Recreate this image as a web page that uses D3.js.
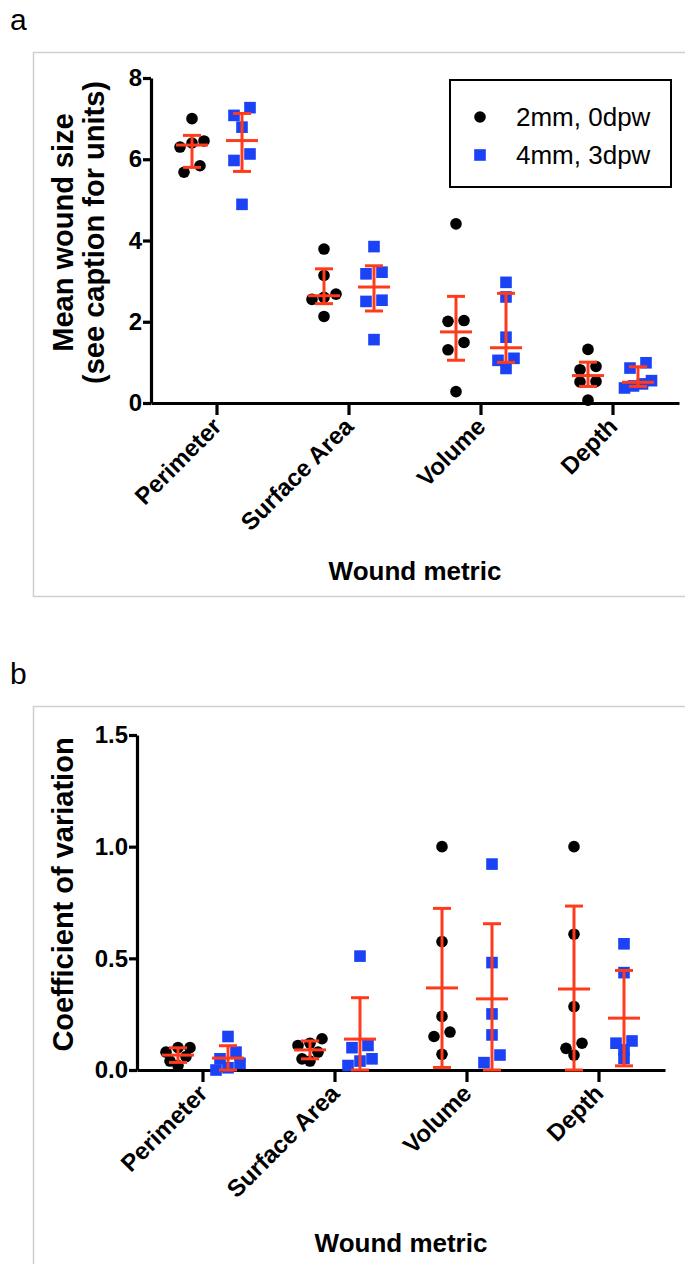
<!DOCTYPE html>
<html lang="en">
<head>
<meta charset="utf-8">
<title>wound metrics</title>
<script src="https://d3js.org/d3.v7.min.js"></script>
<style>
  body{margin:0;background:#fff;font-family:"Liberation Sans",Arial,Helvetica,sans-serif;}
  svg text{font-family:"Liberation Sans",Arial,Helvetica,sans-serif;}
</style>
</head>
<body>
<div id="chart"></div>
<script>
// ---- data ----
var categories = ["Perimeter", "Surface Area", "Volume", "Depth"];
var seriesNames = ["2mm, 0dpw", "4mm, 3dpw"];

// panel a: mean wound size per animal
var size2mm = [
  [7.0, 6.45, 6.4, 6.3, 5.84, 5.68],
  [3.79, 3.14, 2.68, 2.6, 2.55, 2.13],
  [4.41, 2.03, 2.01, 1.49, 1.31, 0.28],
  [1.32, 0.9, 0.82, 0.53, 0.52, 0.07]
];
var size4mm = [
  [7.27, 7.08, 6.79, 6.13, 5.97, 4.89],
  [3.85, 3.22, 3.18, 2.53, 2.5, 1.56],
  [2.97, 2.61, 1.62, 1.10, 1.05, 0.85],
  [0.99, 0.86, 0.55, 0.47, 0.42, 0.37]
];
var sizeTicks = [0, 2, 4, 6, 8];

// panel b: coefficient of variation per animal
var cv2mm = [
  [0.10, 0.10, 0.08, 0.06, 0.04, 0.02],
  [0.14, 0.12, 0.11, 0.08, 0.05, 0.04],
  [1.0, 0.575, 0.24, 0.17, 0.15, 0.07],
  [1.0, 0.608, 0.284, 0.12, 0.097, 0.067]
];
var cv4mm = [
  [0.15, 0.08, 0.05, 0.03, 0.01, 0.0],
  [0.51, 0.11, 0.10, 0.05, 0.04, 0.02],
  [0.922, 0.481, 0.251, 0.157, 0.067, 0.033],
  [0.565, 0.436, 0.13, 0.12, 0.09, 0.052]
];
var cvTicks = [0, 0.5, 1.0, 1.5];

var BLACK = "#000", BLUE = "#1b42f5", RED = "#ff3b1c";
var W = 685, H = 1264;

var svg = d3.select("#chart").append("svg")
  .attr("width", W).attr("height", H);

// quartile the way prism does it, position (n+1)p
function quart(vals, p) {
  var s = vals.slice().sort(d3.ascending), n = s.length;
  var pos = (n + 1) * p, lo = Math.floor(pos), f = pos - lo;
  if (lo < 1) return s[0];
  if (lo >= n) return s[n - 1];
  return s[lo - 1] + f * (s[lo] - s[lo - 1]);
}

function summary(vals, stat) {
  if (stat == "median") {
    return {mid: quart(vals, 0.5), lo: quart(vals, 0.25), hi: quart(vals, 0.75)};
  }
  var m = d3.mean(vals), sd = d3.deviation(vals);
  return {mid: m, lo: Math.max(0, m - sd), hi: m + sd};
}

// spread points with about the same y into a row, like a scatter dot plot
function spread(vals, y) {
  var idx = d3.range(vals.length).sort(function(a, b){ return vals[b] - vals[a]; });
  var out = new Array(vals.length);
  var i = 0;
  while (i < idx.length) {
    var y0 = y(vals[idx[i]]), row = [idx[i]];
    var j = i + 1;
    while (j < idx.length && Math.abs(y(vals[idx[j]]) - y0) < 8) { row.push(idx[j]); j++; }
    var step = row.length == 2 ? 16 : (row.length == 3 ? 12 : 9);
    row.forEach(function(k, r){ out[k] = ((row.length - 1) / 2 - r) * step; });
    i = j;
  }
  return out;
}

function drawPanel(cfg) {
  var g = svg.append("g");

  g.append("rect")
    .attr("x", 33.5).attr("y", cfg.frameTop + 0.5)
    .attr("width", 700).attr("height", cfg.frameH)
    .attr("fill", "none").attr("stroke", "#cfcfcf").attr("stroke-width", 1.5);

  g.append("text").attr("x", 10).attr("y", cfg.frameTop - 22)
    .attr("font-size", 30).text(cfg.letter);

  var y = d3.scaleLinear().domain(cfg.yDomain).range([cfg.y0, cfg.y1]);
  var x = d3.scaleBand().domain(categories).range([cfg.x0, cfg.x0 + 528]);

  var yAxis = d3.axisLeft(y).tickValues(cfg.ticks).tickFormat(d3.format(cfg.fmt))
    .tickSize(8).tickSizeOuter(0).tickPadding(1);
  var ya = g.append("g").attr("transform", "translate(" + cfg.x0 + ",0)").call(yAxis);

  var xAxis = d3.axisBottom(x).tickSize(12).tickSizeOuter(0);
  var xa = g.append("g").attr("transform", "translate(0," + cfg.y0 + ")").call(xAxis);

  [ya, xa].forEach(function(a){
    a.select(".domain").attr("stroke", "#000").attr("stroke-width", 3.2);
    a.selectAll(".tick line").attr("stroke", "#000").attr("stroke-width", 3.2);
    a.selectAll("text").attr("fill", "#000").attr("font-size", 24).attr("font-weight", "bold");
  });
  xa.selectAll(".tick text")
    .attr("x", 0).attr("y", 0).attr("dy", "0.35em")
    .attr("transform", "translate(0,19) rotate(-45)")
    .style("text-anchor", "end").attr("font-size", 24);

  g.append("text").attr("x", cfg.x0 + 264).attr("y", cfg.xTitleY)
    .attr("text-anchor", "middle").attr("font-size", 26).attr("font-weight", "bold")
    .text("Wound metric");

  cfg.yTitle.forEach(function(t, i){
    g.append("text")
      .attr("transform", "translate(" + cfg.yTitleX[i] + "," + ((cfg.y0 + cfg.y1) / 2 - 8) + ") rotate(-90)")
      .attr("text-anchor", "middle").attr("font-size", 29).attr("font-weight", "bold")
      .text(t);
  });

  var groups = [
    {vals: cfg.s1, dx: -25, color: BLACK, shape: "circle"},
    {vals: cfg.s2, dx: 25, color: BLUE, shape: "square"}
  ];

  groups.forEach(function(grp){
    categories.forEach(function(c, ci){
      var vals = grp.vals[ci];
      var cx = x(c) + x.bandwidth() / 2 + grp.dx;
      var off = spread(vals, y);
      var pts = g.append("g");
      if (grp.shape == "circle") {
        pts.selectAll("circle").data(vals).enter().append("circle")
          .attr("cx", function(d, i){ return cx + off[i]; })
          .attr("cy", function(d){ return y(d); })
          .attr("r", 5.8).attr("fill", grp.color);
      } else {
        pts.selectAll("rect").data(vals).enter().append("rect")
          .attr("x", function(d, i){ return cx + off[i] - 5.8; })
          .attr("y", function(d){ return y(d) - 5.8; })
          .attr("width", 11.6).attr("height", 11.6).attr("fill", grp.color);
      }
    });
  });

  // error bars on top
  groups.forEach(function(grp){
    categories.forEach(function(c, ci){
      var s = summary(grp.vals[ci], cfg.stat);
      var cx = x(c) + x.bandwidth() / 2 + grp.dx;
      var eb = g.append("g").attr("stroke", RED).attr("stroke-width", 3);
      eb.append("line").attr("x1", cx).attr("x2", cx).attr("y1", y(s.lo)).attr("y2", y(s.hi));
      eb.append("line").attr("x1", cx - 16).attr("x2", cx + 16).attr("y1", y(s.mid)).attr("y2", y(s.mid));
      eb.append("line").attr("x1", cx - 9).attr("x2", cx + 9).attr("y1", y(s.lo)).attr("y2", y(s.lo));
      eb.append("line").attr("x1", cx - 9).attr("x2", cx + 9).attr("y1", y(s.hi)).attr("y2", y(s.hi));
    });
  });

  return g;
}

var ga = drawPanel({
  letter: "a", frameTop: 52, frameH: 544,
  yDomain: [0, 8], ticks: sizeTicks, fmt: "d",
  y0: 403, y1: 78, x0: 151, xTitleY: 580,
  yTitle: ["Mean wound size", "(see caption for units)"], yTitleX: [73, 104],
  s1: size2mm, s2: size4mm, stat: "median"
});

drawPanel({
  letter: "b", frameTop: 706, frameH: 600,
  yDomain: [0, 1.5], ticks: cvTicks, fmt: ".1f",
  y0: 1070, y1: 735, x0: 137, xTitleY: 1252,
  yTitle: ["Coefficient of variation"], yTitleX: [73],
  s1: cv2mm, s2: cv4mm, stat: "mean"
});

// legend, panel a
var lg = ga.append("g");
lg.append("rect").attr("x", 450).attr("y", 80).attr("width", 221).attr("height", 107)
  .attr("fill", "#fff").attr("stroke", "#000").attr("stroke-width", 2);
seriesNames.forEach(function(name, i){
  var yy = 117 + i * 38;
  if (i == 0) {
    lg.append("circle").attr("cx", 480).attr("cy", yy).attr("r", 5.8).attr("fill", BLACK);
  } else {
    lg.append("rect").attr("x", 474.2).attr("y", yy - 5.8).attr("width", 11.6).attr("height", 11.6).attr("fill", BLUE);
  }
  lg.append("text").attr("x", 516).attr("y", yy + 9).attr("font-size", 26).text(name);
});
</script>
</body>
</html>
